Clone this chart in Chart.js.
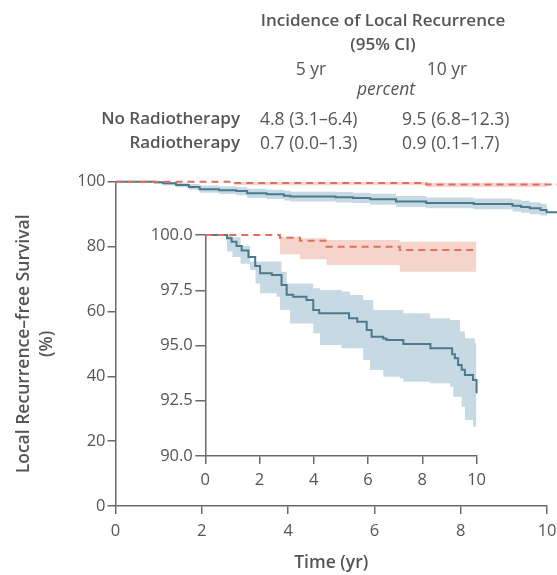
<!DOCTYPE html>
<html>
<head>
<meta charset="utf-8">
<script src="https://cdn.jsdelivr.net/npm/chart.js@4.4.0/dist/chart.umd.min.js"></script>
<style>
  body { margin: 0; background: #fff; overflow: hidden; }
  #wrap { position: relative; width: 557px; height: 575px; overflow: hidden; font-family: "Open Sans", sans-serif; color: #555; }
  #wrap canvas { position: absolute; }
  #main { left: 0; top: 0; }
  #inset { left: 140px; top: 220px; }
  .t { position: absolute; white-space: nowrap; line-height: 20px; font-size: 17.5px; }
  .c { transform: translateX(-50%); }
  .b { font-weight: 600; font-size: 17px; }
  .i { font-style: italic; }
</style>
</head>
<body>
<div id="wrap">
  <!-- main canvas is a little wider than the window: the x tick padding eats into the right margin -->
  <canvas id="main" width="564" height="575"></canvas>
  <canvas id="inset" width="352" height="270"></canvas>

  <div class="t c b" style="left:383px; top:10px;">Incidence of Local Recurrence</div>
  <div class="t c b" style="left:383px; top:34px;">(95% CI)</div>
  <div class="t c" style="left:311px; top:58px;">5 yr</div>
  <div class="t c" style="left:447px; top:58px;">10 yr</div>
  <div class="t c i" style="left:386px; top:78px;">percent</div>
  <div class="t b" style="right:317px; top:108px;">No Radiotherapy</div>
  <div class="t" style="left:260px; top:108px;">4.8 (3.1–6.4)</div>
  <div class="t" style="left:402px; top:108px;">9.5 (6.8–12.3)</div>
  <div class="t b" style="right:317px; top:132px;">Radiotherapy</div>
  <div class="t" style="left:260px; top:132px;">0.7 (0.0–1.3)</div>
  <div class="t" style="left:402px; top:132px;">0.9 (0.1–1.7)</div>
</div>

<script>
// ---- main panel (0-100 %) ----
const mainNoRtTime  = [0, 0.9, 1.1, 1.4, 1.7, 1.95, 2.4, 2.8, 3.05, 3.5, 3.9, 4.05, 5.1, 5.5, 5.9, 6.5, 7.2, 8.3, 9.2, 9.4, 9.6, 9.85, 9.99, 10.3];
const mainNoRtSurv  = [100, 99.8, 99.5, 99.0, 98.4, 97.7, 97.4, 97.1, 96.4, 96.1, 95.7, 95.4, 95.2, 95.0, 94.6, 93.9, 93.4, 93.1, 92.6, 92.2, 91.8, 91.3, 90.6, 90.6];
const mainNoRtUpper = [100, 100, 100, 99.7, 99.3, 98.8, 98.6, 98.4, 97.8, 97.5, 97.2, 96.9, 96.8, 96.6, 96.3, 95.6, 95.1, 94.8, 94.5, 94.1, 93.7, 93.2, 92.5, 92.5];
const mainNoRtLower = [100, 99.4, 98.9, 98.3, 97.5, 96.6, 96.2, 95.8, 95.0, 94.7, 94.2, 93.9, 93.6, 93.4, 92.9, 92.2, 91.8, 91.5, 90.8, 90.4, 90.0, 89.6, 89.0, 89.0];

const mainRtTime  = [0, 2.75, 7.2, 10.3];
const mainRtSurv  = [100, 99.6, 99.1, 99.1];
const mainRtUpper = [100, 100, 99.7, 99.7];
const mainRtLower = [100, 98.9, 98.4, 98.4];

// ---- inset (90-100 %) ----
const insetNoRtTime = [0, 0.8, 0.97, 1.15, 1.34, 1.59, 1.84, 2.02, 2.45, 2.81, 3.0, 3.24, 3.73, 3.98, 4.2, 5.3, 5.6, 5.95, 6.13, 6.56, 6.68, 7.3, 8.3, 9.1, 9.2, 9.32, 9.45, 9.57, 9.87, 10];
const insetNoRtSurv = [100, 99.85, 99.7, 99.5, 99.3, 99.0, 98.6, 98.27, 98.19, 97.74, 97.3, 97.21, 97.06, 96.61, 96.46, 96.23, 96.08, 95.7, 95.4, 95.32, 95.25, 95.07, 94.87, 94.6, 94.42, 94.12, 93.9, 93.67, 93.44, 92.84];

const insetNoRtBandTime = [0, 0.8, 1.0, 1.3, 1.65, 1.85, 2.02, 2.63, 2.75, 2.81, 3.0, 3.12, 3.98, 4.23, 5.02, 5.33, 5.82, 6.07, 6.19, 6.56, 7.17, 7.3, 8.28, 9.02, 9.14, 9.39, 9.45, 9.57, 9.87, 9.94, 10];
const insetNoRtUpper = [100, 100, 99.9, 99.5, 98.8, 98.8, 98.8, 98.8, 98.8, 98.34, 97.81, 97.81, 97.59, 97.51, 97.44, 97.29, 97.06, 97.06, 96.61, 96.61, 96.61, 96.46, 96.23, 96.15, 96.15, 95.63, 95.63, 95.33, 95.33, 95.10, 94.95];
const insetNoRtLower = [100, 99.25, 99.0, 98.7, 98.42, 97.8, 97.36, 97.21, 96.61, 96.61, 96.61, 96.0, 95.55, 95.02, 94.87, 94.87, 94.34, 93.89, 93.89, 93.59, 93.51, 93.36, 93.29, 93.14, 92.68, 92.68, 92.23, 91.63, 91.33, 91.33, 90.5];

const insetRtTime  = [0, 2.75, 3.49, 4.47, 7.17, 10];
const insetRtSurv  = [100, 99.88, 99.74, 99.47, 99.32, 99.32];
const insetRtUpper = [100, 99.92, 99.85, 99.77, 99.70, 99.70];
const insetRtLower = [100, 99.13, 98.9, 98.64, 98.34, 98.34];

const xTicks = [0, 2, 4, 6, 8, 10];
const mainYTicks = [0, 20, 40, 60, 80, 100];
const insetYTicks = [90, 92.5, 95, 97.5, 100];

const blue = '#4b7a8c';
const blueBand = '#c7dae4';
const red = '#e06f5c';
const redBand = '#f5d5cb';
const axisGrey = '#6a6a6a';
const textGrey = '#555';
const font = 'Open Sans';

function pts(t, v) {
    return t.map((x, i) => ({ x: x, y: v[i] }));
}

function makeDatasets(noT, noS, noBT, noU, noL, rtT, rtS, rtU, rtL) {
    return [
        { data: pts(rtT, rtS), borderColor: red, borderWidth: 2, borderDash: [7, 5], order: 0 },
        { data: pts(noT, noS), borderColor: blue, borderWidth: 2, order: 1 },
        { data: pts(rtT, rtU), borderWidth: 0, backgroundColor: redBand, fill: '+1', order: 2 },
        { data: pts(rtT, rtL), borderWidth: 0, order: 2 },
        { data: pts(noBT, noU), borderWidth: 0, backgroundColor: blueBand, fill: '+1', order: 3 },
        { data: pts(noBT, noL), borderWidth: 0, order: 3 }
    ].map(d => Object.assign({ stepped: true, pointRadius: 0, clip: false, fill: d.fill || false }, d));
}

function axis(min, max, ticks, tickLen, pad, fit, extra) {
    return Object.assign({
        type: 'linear',
        min: min,
        max: max,
        afterBuildTicks: s => { s.ticks = ticks.map(v => ({ value: v })); },
        afterFit: s => { if (s.isHorizontal()) s.height = fit; else s.width = fit; },
        grid: { drawOnChartArea: false, drawTicks: true, tickLength: tickLen, tickColor: axisGrey, lineWidth: 1.5 },
        border: { display: true, color: axisGrey, width: 1.5 },
        ticks: { color: textGrey, padding: pad, font: { family: font, size: 16.5 } }
    }, extra || {});
}

const baseOptions = {
    responsive: false,
    animation: false,
    events: [],
    plugins: { legend: { display: false }, tooltip: { enabled: false } }
};

new Chart(document.getElementById('main'), {
    type: 'line',
    data: {
        datasets: makeDatasets(mainNoRtTime, mainNoRtSurv, mainNoRtTime, mainNoRtUpper, mainNoRtLower,
                               mainRtTime, mainRtSurv, mainRtUpper, mainRtLower)
    },
    options: Object.assign({}, baseOptions, {
        layout: { padding: { left: 0, right: 10, top: 181.7, bottom: 0 } },
        scales: {
            x: axis(0, 10, xTicks, 8, 7.5, 69, {
                title: { display: true, text: 'Time (yr)', color: textGrey, padding: { top: 0, bottom: 1 },
                         font: { family: font, size: 17.5, weight: '600' } }
            }),
            y: axis(0, 100, mainYTicks, 8, 2, 115.5, {
                title: { display: true, text: ['Local Recurrence–free Survival', '(%)'], color: textGrey,
                         padding: { top: 13, bottom: 0 }, font: { family: font, size: 17.5, weight: '600', lineHeight: 1.3 } }
            })
        }
    })
});

new Chart(document.getElementById('inset'), {
    type: 'line',
    data: {
        datasets: makeDatasets(insetNoRtTime, insetNoRtSurv, insetNoRtBandTime, insetNoRtUpper, insetNoRtLower,
                               insetRtTime, insetRtSurv, insetRtUpper, insetRtLower)
    },
    options: Object.assign({}, baseOptions, {
        layout: { padding: { left: 0, right: 8, top: 15, bottom: 0 } },
        scales: {
            x: axis(0, 10, xTicks, 8, 6, 34),
            y: axis(90, 100, insetYTicks, 10, 2.5, 65.3, {
                ticks: { color: textGrey, padding: 2.5, font: { family: font, size: 16.5 },
                         callback: v => v.toFixed(1) }
            })
        }
    })
});
</script>
</body>
</html>
